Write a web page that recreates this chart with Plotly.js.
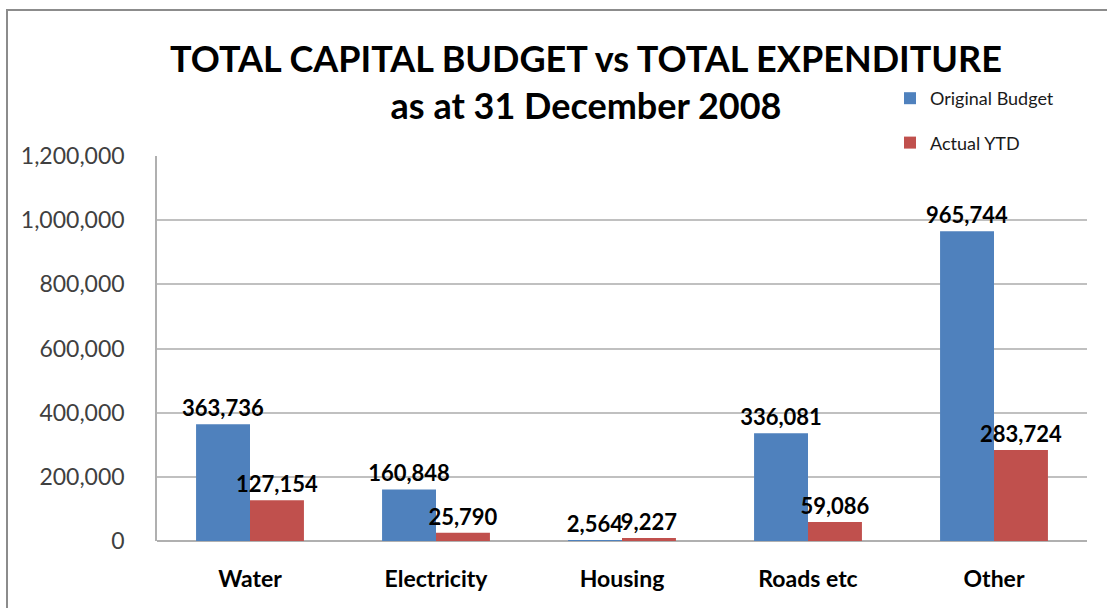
<!DOCTYPE html>
<html>
<head>
<meta charset="utf-8">
<script src="https://cdn.plot.ly/plotly-3.0.1.min.js"></script>
<style>
  html, body { margin: 0; padding: 0; background: #fff; overflow: hidden; }
  #chart { position: absolute; left: 0; top: 0; width: 1107px; height: 608px; }
  #frame { position: absolute; left: 6px; top: 9px; width: 1300px; height: 800px;
           border-left: 2px solid #8c8c8c; border-top: 2px solid #8c8c8c; pointer-events: none; }
</style>
</head>
<body>
<div id="chart"></div>
<div id="frame"></div>
<script>
const categories = ["Water", "Electricity", "Housing", "Roads etc", "Other"];
const originalBudget = [363736, 160848, 2564, 336081, 965744];
const actualYTD = [127154, 25790, 9227, 59086, 283724];
const seriesNames = ["Original Budget", "Actual YTD"];
const yTicks = [0, 200000, 400000, 600000, 800000, 1000000, 1200000];

const FONT = "Lato, 'Open Sans', sans-serif";
const fmt = v => v.toLocaleString("en-US");

const labelFont = { family: FONT, size: 22, color: "#000000", weight: 700 };

const traces = [
  {
    type: "bar", name: seriesNames[0], x: categories, y: originalBudget,
    marker: { color: "#4F81BD" },
    text: originalBudget.map(fmt), textposition: "outside", textfont: labelFont,
    constraintext: "none", cliponaxis: false, legendgroup: "a", hoverinfo: "x+y"
  },
  {
    type: "bar", name: seriesNames[1], x: categories, y: actualYTD,
    marker: { color: "#C0504D" },
    text: actualYTD.map(fmt), textposition: "outside", textfont: labelFont,
    constraintext: "none", cliponaxis: false, legendgroup: "b", hoverinfo: "x+y"
  }
];

const layout = {
  width: 1107, height: 608,
  margin: { l: 157, r: 20, t: 156, b: 67 },
  paper_bgcolor: "rgba(0,0,0,0)", plot_bgcolor: "#ffffff",
  font: { family: FONT, color: "#000" },
  title: {
    text: "TOTAL CAPITAL BUDGET vs TOTAL EXPENDITURE<br>as at 31 December 2008",
    font: { family: FONT, size: 36, color: "#000", weight: 700 },
    x: 586 / 1107, xanchor: "center", xref: "container",
    y: 1 - 72 / 608, yanchor: "top", yref: "container"
  },
  barmode: "group", bargap: 0.42, bargroupgap: 0,
  xaxis: {
    type: "category",
    tickfont: { family: FONT, size: 23, color: "#000", weight: 700 },
    ticks: "", ticklabelstandoff: 22,
    showline: false, showgrid: false, zeroline: false
  },
  yaxis: {
    range: [0, 1200000], tickvals: yTicks, ticktext: yTicks.map(fmt),
    tickfont: { family: FONT, size: 23, color: "#404040" },
    ticks: "", ticklabelstandoff: 26,
    showgrid: true, gridcolor: "#c0c0c0", gridwidth: 1.5,
    showline: true, linecolor: "#b0b0b0", linewidth: 1.5,
    zeroline: true, zerolinecolor: "#b0b0b0", zerolinewidth: 1.5
  },
  showlegend: true,
  legend: {
    x: (890 - 157) / 930, xanchor: "left", xref: "paper",
    y: (541 - 80) / 385, yanchor: "top", yref: "paper",
    font: { family: FONT, size: 18, color: "#1a1a1a" },
    traceorder: "grouped", tracegroupgap: 18,
    bgcolor: "rgba(0,0,0,0)"
  }
};

Plotly.newPlot("chart", traces, layout, { displayModeBar: false, responsive: false });
</script>
</body>
</html>
